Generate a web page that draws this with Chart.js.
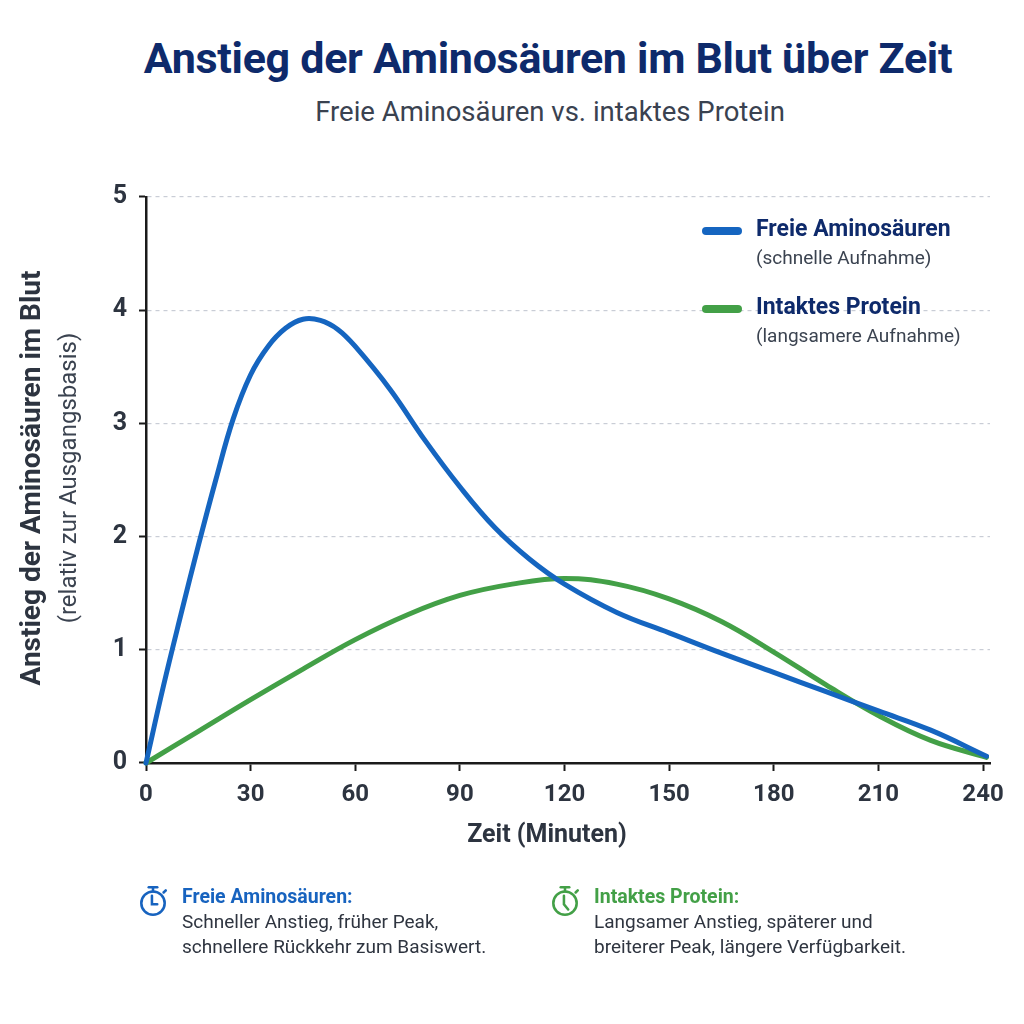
<!DOCTYPE html>
<html lang="de">
<head>
<meta charset="utf-8">
<title>Anstieg der Aminosäuren im Blut über Zeit</title>
<script src="https://cdn.jsdelivr.net/npm/chart.js@4.4.1/dist/chart.umd.min.js"></script>
<style>
    html, body { margin: 0; padding: 0; background: #ffffff; }
    body { width: 1024px; height: 1024px; position: relative; overflow: hidden; font-family: Roboto, "Noto Sans", sans-serif; }
    #wrap { position: absolute; left: 0; top: 0; width: 1024px; height: 1024px; }
    h1 { position: absolute; left: 36px; width: 1024px; top: 31px; margin: 0; text-align: center;
         font-size: 43px; line-height: 54px; font-weight: 700; color: #0e2a6b; letter-spacing: -0.3px; }
    h2 { position: absolute; left: 38px; width: 1024px; top: 96px; margin: 0; text-align: center;
         font-size: 27.5px; line-height: 32px; font-weight: 400; color: #3a4250; }
    .note { position: absolute; top: 884px; font-size: 19px; line-height: 25px; color: #2f3540; }
    .note svg { position: absolute; left: -44px; top: 0px; }
    .note b { font-weight: 700; font-size: 19.5px; }
    .blue b { color: #1763bf; }
    .green b { color: #43a047; }
</style>
</head>
<body>
<h1>Anstieg der Aminosäuren im Blut über Zeit</h1>
<h2>Freie Aminosäuren vs. intaktes Protein</h2>
<div id="wrap"><canvas id="chart" width="1024" height="1024"></canvas></div>

<div class="note blue" style="left:182px;">
    <svg width="30" height="34" viewBox="0 0 28 32">
        <g fill="none" stroke="#1763bf" stroke-width="2.4" stroke-linecap="round">
            <circle cx="14" cy="18" r="11"/>
            <line x1="10" y1="3" x2="18" y2="3"/>
            <line x1="14" y1="3" x2="14" y2="7"/>
            <line x1="24" y1="8" x2="26" y2="6"/>
            <polyline points="13,11 13,19 18,19"/>
        </g>
    </svg>
    <b>Freie Aminosäuren:</b><br>
    Schneller Anstieg, früher Peak,<br>
    schnellere Rückkehr zum Basiswert.
</div>
<div class="note green" style="left:594px;">
    <svg width="30" height="34" viewBox="0 0 28 32">
        <g fill="none" stroke="#43a047" stroke-width="2.4" stroke-linecap="round">
            <circle cx="14" cy="18" r="11"/>
            <line x1="10" y1="3" x2="18" y2="3"/>
            <line x1="14" y1="3" x2="14" y2="7"/>
            <line x1="24" y1="8" x2="26" y2="6"/>
            <polyline points="13,11 13,19 17,24"/>
        </g>
    </svg>
    <b>Intaktes Protein:</b><br>
    Langsamer Anstieg, späterer und<br>
    breiterer Peak, längere Verfügbarkeit.
</div>

<script>
// Data
var seriesLabels = ["Freie Aminosäuren", "Intaktes Protein"];
var seriesNotes = ["(schnelle Aufnahme)", "(langsamere Aufnahme)"];

var freeTimes  = [0, 5, 10, 15, 20, 25, 30, 35, 40, 45, 50, 55, 60, 70, 80, 90, 100, 110, 120, 135, 150, 165, 180, 195, 210, 225, 241];
var freeValues = [0, 0.68, 1.31, 1.92, 2.5, 3.04, 3.43, 3.68, 3.84, 3.92, 3.91, 3.83, 3.68, 3.3, 2.85, 2.44, 2.08, 1.8, 1.58, 1.33, 1.15, 0.97, 0.8, 0.63, 0.46, 0.29, 0.06];

var proteinTimes  = [0, 15, 30, 45, 60, 75, 90, 105, 120, 135, 150, 165, 180, 195, 210, 225, 241];
var proteinValues = [0, 0.28, 0.56, 0.83, 1.09, 1.31, 1.48, 1.58, 1.63, 1.58, 1.45, 1.25, 0.98, 0.69, 0.42, 0.2, 0.05];

var xTicks = [0, 30, 60, 90, 120, 150, 180, 210, 240];
var yTicks = [0, 1, 2, 3, 4, 5];

var blue = "#1565c0";
var green = "#43a047";
var textDark = "#2d3440";
var navy = "#0e2a6b";

function toPoints(xs, ys) {
    return xs.map(function (x, i) { return { x: x, y: ys[i] }; });
}

// Axis titles + legend with second lines
var extraText = {
    id: "extraText",
    afterDraw: function (chart) {
        var ctx = chart.ctx;
        ctx.save();

        // y axis title, two lines
        ctx.translate(33, 478);
        ctx.rotate(-Math.PI / 2);
        ctx.textAlign = "center";
        ctx.textBaseline = "middle";
        ctx.fillStyle = textDark;
        ctx.font = "700 28px Roboto";
        ctx.fillText("Anstieg der Aminosäuren im Blut", 0, 0);
        ctx.font = "400 24px Roboto";
        ctx.fillStyle = "#3b4350";
        ctx.fillText("(relativ zur Ausgangsbasis)", 0, 37);
        ctx.restore();

        // x axis title
        ctx.save();
        ctx.textAlign = "center";
        ctx.textBaseline = "middle";
        ctx.fillStyle = textDark;
        ctx.font = "700 25px Roboto";
        ctx.fillText("Zeit (Minuten)", 547, 836);

        // legend
        var rows = [230, 308];
        chart.data.datasets.forEach(function (ds, i) {
            var y = rows[i];
            ctx.strokeStyle = ds.borderColor;
            ctx.lineWidth = 8;
            ctx.lineCap = "round";
            ctx.beginPath();
            ctx.moveTo(706, y + 1);
            ctx.lineTo(738, y + 1);
            ctx.stroke();
            ctx.textAlign = "left";
            ctx.fillStyle = navy;
            ctx.font = "700 23px Roboto";
            ctx.fillText(ds.label, 756, y);
            ctx.fillStyle = "#3b4350";
            ctx.font = "400 19px Roboto";
            ctx.fillText(seriesNotes[i], 756, y + 29);
        });
        ctx.restore();
    }
};

var ctx = document.getElementById("chart").getContext("2d");
var myChart = new Chart(ctx, {
    type: "line",
    data: {
        datasets: [
            {
                label: seriesLabels[0],
                data: toPoints(freeTimes, freeValues),
                borderColor: blue,
                borderWidth: 5,
                pointRadius: 0,
                tension: 0.4,
                borderCapStyle: "round",
                clip: false,
                fill: false
            },
            {
                label: seriesLabels[1],
                data: toPoints(proteinTimes, proteinValues),
                borderColor: green,
                borderWidth: 5,
                pointRadius: 0,
                tension: 0.4,
                borderCapStyle: "round",
                clip: false,
                fill: false
            }
        ]
    },
    options: {
        responsive: false,
        animation: false,
        devicePixelRatio: 1,
        layout: { padding: { left: 0, top: 197, right: 34, bottom: 0 } },
        plugins: {
            legend: { display: false },
            title: { display: false },
            tooltip: { enabled: false }
        },
        scales: {
            x: {
                type: "linear",
                min: 0,
                max: 242,
                afterBuildTicks: function (scale) {
                    scale.ticks = xTicks.map(function (v) { return { value: v }; });
                },
                afterFit: function (scale) { scale.height = 261; },
                grid: {
                    drawOnChartArea: false,
                    drawTicks: true,
                    tickLength: 8,
                    tickWidth: 2,
                    tickColor: "#1a1a1a"
                },
                border: { display: true, color: "#1a1a1a", width: 2.5 },
                ticks: {
                    padding: 10,
                    color: textDark,
                    font: { family: "Roboto", size: 24, weight: "700" }
                }
            },
            y: {
                min: 0,
                max: 5,
                afterBuildTicks: function (scale) {
                    scale.ticks = yTicks.map(function (v) { return { value: v }; });
                },
                afterFit: function (scale) { scale.width = 146; },
                grid: {
                    color: "#c9cdd6",
                    lineWidth: 1.2,
                    drawTicks: true,
                    tickLength: 7,
                    tickWidth: 2,
                    tickColor: "#1a1a1a",
                    tickBorderDash: [1, 0]
                },
                border: { display: true, color: "#1a1a1a", width: 2.5, dash: [4, 4] },
                ticks: {
                    padding: 12,
                    color: textDark,
                    font: { family: "Roboto", size: 25, weight: "700" }
                }
            }
        }
    },
    plugins: [extraText]
});
</script>
</body>
</html>
